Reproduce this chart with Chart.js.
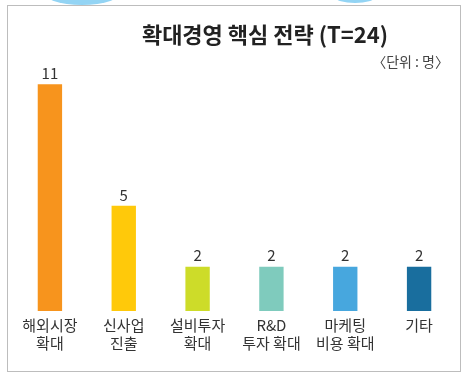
<!DOCTYPE html>
<html>
<head>
<meta charset="utf-8">
<script src="https://cdn.jsdelivr.net/npm/chart.js@4"></script>
<style>
html,body{margin:0;padding:0;background:#fff;}
#wrap{position:relative;width:466px;height:380px;overflow:hidden;background:#fff;}
#frame{position:absolute;left:7px;top:5px;width:452px;height:365px;border:1.5px solid #bdbdbd;box-sizing:content-box;}
.blob{position:absolute;background:#93d4f4;}
#b1{left:42px;top:-30px;width:80px;height:35px;border-radius:0 0 40px 40px / 0 0 14px 14px;}
#b2{left:335px;top:-30px;width:40px;height:33px;border-radius:0 0 20px 20px / 0 0 6px 6px;}
canvas{position:absolute;left:0;top:0;}
</style>
</head>
<body>
<div id="wrap">
<div class="blob" id="b1"></div>
<div class="blob" id="b2"></div>
<div id="frame"></div>
<canvas id="c" width="466" height="380"></canvas>
</div>
<script>
const titleText = "확대경영 핵심 전략 (T=24)";
const unitText = "〈단위 : 명〉";
const categories = [["해외시장","확대"],["신사업","진출"],["설비투자","확대"],["R&D","투자 확대"],["마케팅","비용 확대"],["기타"]];
const values = [11,5,2,2,2,2];
const colors = ["#f7941d","#ffc90a","#cddc29","#7fcbbd","#47a7de","#196e9e"];

const FONT = "'Noto Sans CJK KR','Noto Sans',sans-serif";

const textPlugin = {
  id:'texts',
  afterDatasetsDraw(chart){
    const ctx = chart.ctx;
    ctx.save();
    ctx.fillStyle = '#222';
    ctx.font = "bold 22px " + FONT;
    ctx.textAlign = 'center';
    ctx.textBaseline = 'middle';
    ctx.fillText(titleText, 265, 35);
    ctx.fillStyle = '#444';
    ctx.font = "14px " + FONT;
    ctx.textAlign = 'right';
    ctx.fillText(unitText, 449, 62);
    const meta = chart.getDatasetMeta(0);
    ctx.fillStyle = '#333';
    ctx.font = "15px " + FONT;
    ctx.textAlign = 'center';
    meta.data.forEach((bar,i)=>{
      ctx.fillText(String(values[i]), bar.x, bar.y - 11);
    });
    ctx.restore();
  }
};

new Chart(document.getElementById('c'), {
  type:'bar',
  data:{
    labels: categories,
    datasets:[{
      data: values,
      backgroundColor: colors,
      borderWidth:0,
      base:-0.19,
      categoryPercentage:1,
      barPercentage:0.33
    }]
  },
  options:{
    responsive:false,
    animation:false,
    devicePixelRatio:1,
    layout:{padding:{left:13,right:10,top:64,bottom:23}},
    plugins:{legend:{display:false},tooltip:{enabled:false},title:{display:false}},
    scales:{
      y:{display:false,min:-0.19,max:12},
      x:{
        grid:{display:false,drawTicks:false},
        border:{display:false},
        ticks:{color:'#333',font:{family:FONT,size:15,lineHeight:1.2},padding:5,maxRotation:0,autoSkip:false}
      }
    }
  },
  plugins:[textPlugin]
});
</script>
</body>
</html>
